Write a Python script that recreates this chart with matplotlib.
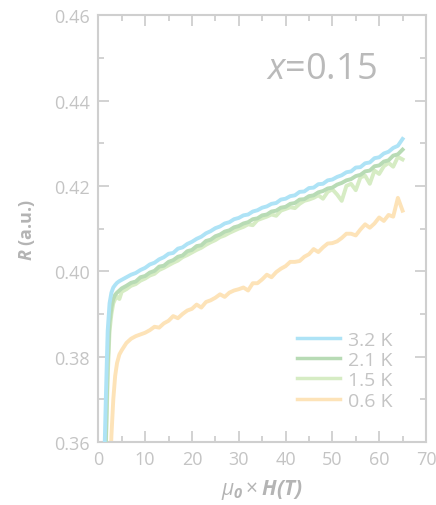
import matplotlib
matplotlib.use('Agg')
import matplotlib.pyplot as plt

plt.rcParams['font.family'] = ['Open Sans', 'DejaVu Sans']
plt.rcParams['mathtext.fontset'] = 'custom'
plt.rcParams['mathtext.rm'] = 'Open Sans'
plt.rcParams['mathtext.it'] = 'Open Sans:italic'
plt.rcParams['mathtext.bf'] = 'Open Sans:bold:italic'

# field values (T)
field = [1.2, 1.6, 2.0, 2.4, 2.8, 3.2, 3.6, 4.0, 4.5, 5,
         6, 7, 8, 9, 10, 11, 12, 13, 14, 15, 16, 17, 18, 19, 20,
         21, 22, 23, 24, 25, 26, 27, 28, 29, 30, 31, 32, 33, 34, 35,
         36, 37, 38, 39, 40, 41, 42, 43, 44, 45, 46, 47, 48, 49, 50,
         51, 52, 53, 54, 55, 56, 57, 58, 59, 60, 61, 62, 63, 64, 65]

r_32K = [0.352, 0.370, 0.386, 0.3925, 0.3950, 0.3962, 0.3968, 0.3973, 0.3977, 0.3980,
         0.3986, 0.3992, 0.3996, 0.4003, 0.4008, 0.4016, 0.4020, 0.4028, 0.4033, 0.4041,
         0.4043, 0.4053, 0.4056, 0.4064, 0.4069, 0.4076, 0.4081, 0.4089, 0.4094, 0.4101,
         0.4105, 0.4112, 0.4115, 0.4122, 0.4125, 0.4131, 0.4133, 0.4140, 0.4143, 0.4149,
         0.4152, 0.4158, 0.4160, 0.4168, 0.4170, 0.4176, 0.4178, 0.4186, 0.4187, 0.4195,
         0.4196, 0.4204, 0.4205, 0.4213, 0.4215, 0.4221, 0.4225, 0.4232, 0.4234, 0.4243,
         0.4244, 0.4253, 0.4255, 0.4265, 0.4267, 0.4276, 0.4280, 0.4289, 0.4294, 0.4310]

r_21K = [0.345, 0.360, 0.378, 0.388, 0.3915, 0.3935, 0.3945, 0.3950, 0.3955, 0.3960,
         0.3966, 0.3973, 0.3976, 0.3986, 0.3989, 0.3997, 0.4001, 0.4011, 0.4013, 0.4022,
         0.4026, 0.4034, 0.4037, 0.4047, 0.4050, 0.4059, 0.4061, 0.4071, 0.4074, 0.4082,
         0.4086, 0.4093, 0.4096, 0.4103, 0.4106, 0.4112, 0.4115, 0.4122, 0.4124, 0.4131,
         0.4133, 0.4140, 0.4142, 0.4149, 0.4151, 0.4158, 0.4160, 0.4168, 0.4169, 0.4176,
         0.4178, 0.4185, 0.4188, 0.4194, 0.4196, 0.4203, 0.4207, 0.4213, 0.4216, 0.4223,
         0.4226, 0.4234, 0.4236, 0.4246, 0.4248, 0.4257, 0.4260, 0.4271, 0.4274, 0.4285]

r_15K = [0.343, 0.358, 0.375, 0.386, 0.3900, 0.3925, 0.3935, 0.3940, 0.3935, 0.3952,
         0.3958, 0.3966, 0.3970, 0.3978, 0.3983, 0.3990, 0.3994, 0.4003, 0.4008, 0.4014,
         0.4020, 0.4025, 0.4033, 0.4038, 0.4044, 0.4050, 0.4055, 0.4062, 0.4068, 0.4073,
         0.4080, 0.4084, 0.4090, 0.4095, 0.4100, 0.4104, 0.4110, 0.4108, 0.4120, 0.4124,
         0.4128, 0.4133, 0.4130, 0.4142, 0.4146, 0.4150, 0.4148, 0.4158, 0.4165, 0.4168,
         0.4172, 0.4178, 0.4170, 0.4186, 0.4192, 0.4180, 0.4165, 0.4200, 0.4205, 0.4190,
         0.4220, 0.4224, 0.4205, 0.4236, 0.4228, 0.4246, 0.4254, 0.4245, 0.4268, 0.4262]

r_06K = [0.330, 0.335, 0.340, 0.350, 0.3615, 0.3700, 0.3755, 0.3785, 0.3805, 0.3815,
         0.3832, 0.3842, 0.3848, 0.3852, 0.3856, 0.3862, 0.3870, 0.3868, 0.3878, 0.3884,
         0.3895, 0.3890, 0.3900, 0.3908, 0.3912, 0.3922, 0.3915, 0.3928, 0.3932, 0.3938,
         0.3946, 0.3940, 0.3950, 0.3955, 0.3958, 0.3962, 0.3955, 0.3972, 0.3972, 0.3981,
         0.3992, 0.3986, 0.3998, 0.4006, 0.4012, 0.4022, 0.4022, 0.4024, 0.4034, 0.4040,
         0.4052, 0.4045, 0.4056, 0.4065, 0.4066, 0.4070, 0.4078, 0.4088, 0.4088, 0.4084,
         0.4098, 0.4110, 0.4102, 0.4112, 0.4126, 0.4118, 0.4132, 0.4128, 0.4172, 0.4142]

labels = ['3.2 K', '2.1 K', '1.5 K', '0.6 K']
colors = ['#aee3f6', '#b8dbb5', '#d6ecc4', '#fde3b8']
gray = '#c4c4c4'

fig = plt.figure(figsize=(4.36, 5.06), dpi=100)
ax = fig.add_axes([0.2255, 0.1245, 0.7515, 0.8435])

series = [r_32K, r_21K, r_15K, r_06K]
zorders = [5, 4, 3, 2]
for r, c, lab, z in zip(series, colors, labels, zorders):
    ax.plot(field, r, color=c, lw=2.8, label=lab, zorder=z)

ax.set_xlim(0, 70)
ax.set_ylim(0.36, 0.46)
ax.set_xticks(range(0, 71, 10))
ax.set_xticks(range(5, 70, 10), minor=True)
ax.set_yticks([0.36, 0.38, 0.40, 0.42, 0.44, 0.46])
ax.set_yticks([0.37, 0.39, 0.41, 0.43, 0.45], minor=True)
ax.set_yticklabels(['0.36', '0.38', '0.40', '0.42', '0.44', '0.46'])

for s in ax.spines.values():
    s.set_color('#cfcfcf')
    s.set_linewidth(1.5)
ax.tick_params(which='both', direction='in', top=True, right=True,
               colors='#cfcfcf', labelcolor=gray, labelsize=13, width=1.3)
ax.tick_params(which='major', length=8, pad=6)
ax.tick_params(which='minor', length=4.5)

ax.set_xlabel(r'$\mu_\mathbf{0}\times\mathbf{H(T)}$', fontsize=15,
              color='#b4b4b4', labelpad=6)
ax.set_ylabel(r'$\mathbf{R}$ (a.u.)', fontsize=13, fontweight='bold',
              color='#b4b4b4', labelpad=12)

ax.text(0.68, 0.875, r'$x$=0.15', transform=ax.transAxes, fontsize=26,
        color='#bababa', ha='center', va='center')

leg = ax.legend(loc='lower right', bbox_to_anchor=(0.95, 0.035), frameon=False,
                fontsize=14, handlelength=2.2, handletextpad=0.4,
                labelspacing=0.12, labelcolor=gray)
for h in leg.get_lines():
    h.set_linewidth(2.5)

fig.savefig('out.png', dpi=100)
